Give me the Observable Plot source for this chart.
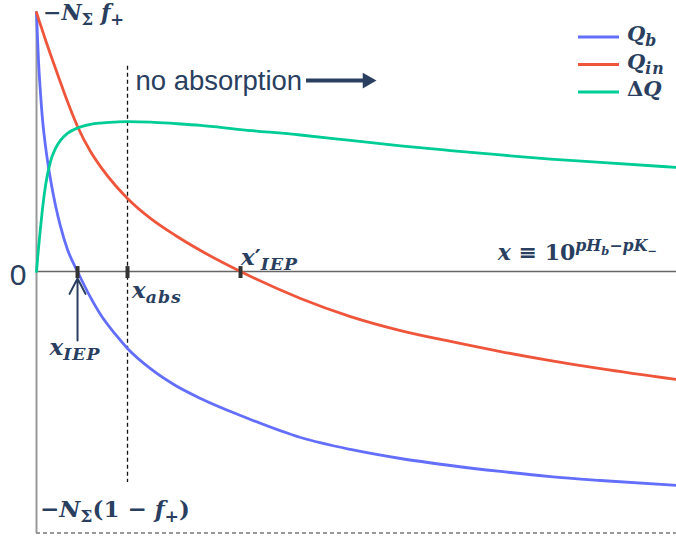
<!DOCTYPE html>
<html><head><meta charset="utf-8">
<script src="https://cdn.jsdelivr.net/npm/d3@7"></script>
<script src="https://cdn.jsdelivr.net/npm/@observablehq/plot@0.6"></script>
<style>body{margin:0;background:#fff} svg{display:block}</style>
</head><body><div id="chart"></div>
<script>
// x = 10^(pH_b - pK_-) (arbitrary linear units), charges normalised so -N_Σ f_+ = 1
const xs  = [0, 0.016, 0.031, 0.063, 0.094, 0.141, 0.219, 0.297, 0.375, 0.484, 0.641, 0.844, 1.0, 1.234, 1.422, 1.781, 2.172, 2.563, 3.188, 4.125, 4.906, 5.688, 6.469, 7.25, 8.031, 8.813, 10];
const qb  = [1.000, 0.900, 0.815, 0.687, 0.587, 0.483, 0.355, 0.255, 0.174, 0.085, 0.000, -0.100, -0.166, -0.243, -0.297, -0.375, -0.440, -0.490, -0.556, -0.641, -0.687, -0.722, -0.749, -0.772, -0.792, -0.807, -0.826];
const qin = [1.000, 0.988, 0.976, 0.952, 0.929, 0.894, 0.838, 0.784, 0.730, 0.656, 0.560, 0.463, 0.405, 0.332, 0.282, 0.205, 0.139, 0.081, 0.000, -0.104, -0.174, -0.228, -0.270, -0.309, -0.344, -0.375, -0.417];
const dq  = [0.000, 0.046, 0.089, 0.170, 0.243, 0.332, 0.425, 0.475, 0.506, 0.533, 0.554, 0.568, 0.573, 0.577, 0.579, 0.577, 0.571, 0.564, 0.548, 0.527, 0.506, 0.485, 0.467, 0.450, 0.434, 0.421, 0.402];
const seriesKeys = ["Qb", "Qin", "dQ"];
const seriesColors = ["#636efa", "#ef553b", "#00cc96"];
const yTop = 1, yBottom = -1.0116;          // -N_Σ f_+  and  -N_Σ(1 - f_+)
const xIEP = 0.641, xAbs = 1.422, xIEPp = 3.188;
const absLineTop = 0.792, absLineBottom = -0.815;
const noAbsText = "no absorption";

const ink = "#2a3f5f";
const mathFont = "'DejaVu Serif', serif";

const rows = xs.flatMap((x, i) => [
  {x, y: qb[i], s: "Qb"}, {x, y: qin[i], s: "Qin"}, {x, y: dq[i], s: "dQ"}
]);

const plot = Plot.plot({
  width: 676, height: 539,
  marginLeft: 36, marginRight: 0, marginTop: 12, marginBottom: 6,
  x: {domain: [0, 10], axis: null},
  y: {domain: [yBottom, yTop], axis: null},
  color: {domain: seriesKeys, range: seriesColors},
  marks: [
    Plot.ruleY([yBottom], {x1: 0, x2: 10, stroke: "#333", strokeWidth: 1, strokeDasharray: "4,3", dy: -0.5}),
    Plot.ruleX([0], {y1: yBottom, y2: yTop, stroke: "#999", strokeWidth: 2}),
    Plot.ruleY([0], {x1: 0, x2: 10, stroke: "#666", strokeWidth: 1.6}),
    Plot.ruleX([xAbs], {y1: absLineTop, y2: absLineBottom, stroke: "#111", strokeWidth: 1.3, strokeDasharray: "4,3"}),
    Plot.line(rows, {x: "x", y: "y", z: "s", stroke: "s", strokeWidth: 2.8, curve: "monotone-x"}),
    Plot.ruleX([xIEP, xAbs, xIEPp], {y1: 0.019, y2: -0.027, stroke: "#333", strokeWidth: 4}),
    Plot.arrow([0], {x1: xIEP, x2: xIEP, y1: -0.266, y2: -0.027, stroke: ink, strokeWidth: 2, headLength: 13, headAngle: 55}),
    Plot.ruleY([0.737], {x1: 4.219, x2: 5.11, stroke: ink, strokeWidth: 4}),
    Plot.dot([0], {x: 5.169, y: 0.737, symbol: "triangle", r: 5.9, rotate: 90, fill: ink, stroke: null}),
    Plot.text([noAbsText], {x: 1.547, y: 0.699, text: d => d, textAnchor: "start", lineAnchor: "bottom", fontSize: 27.5, fontFamily: "'Liberation Sans', Arial, sans-serif", fill: ink}),
    Plot.text(["0"], {x: 0, y: 0, text: d => d, dx: -10, dy: 14, textAnchor: "end", lineAnchor: "bottom", fontSize: 30, fontFamily: "'Liberation Sans', Arial, sans-serif", fill: ink})
  ]
});
document.getElementById("chart").append(plot);

// rich math labels positioned through the plot's own scales
const sx = plot.scale("x"), sy = plot.scale("y");
const K = {
  i:  {shift: 0,  scale: 1,    style: "italic"},
  r:  {shift: 0,  scale: 1,    style: "normal"},
  si: {shift: 5,  scale: 0.75, style: "italic", ls: 1},
  sr: {shift: 5,  scale: 0.75, style: "normal"},
  Pi: {shift: -9, scale: 0.72, style: "italic"},
  Pr: {shift: -9, scale: 0.72, style: "normal"},
  PSi:{shift: -5, scale: 0.52, style: "italic"},
  PSr:{shift: -5, scale: 0.52, style: "normal"}
};
const labels = [
  {x: 0, y: yTop, dx: 7, dy: 8, size: 22, parts: [["−","r"],["N","i"],["Σ","sr"],[" ","r"],["f","i"],["+","sr"]]},
  {x: 0, y: -0.950, dx: 4, dy: 0, size: 23, parts: [["−","r"],["N","i"],["Σ","sr"],["(1 − ","r"],["f","i"],["+","sr"],[")","r"]]},
  {x: xIEP, y: 0, dx: -2, dy: 84, size: 23, anchor: "middle", parts: [["x","i"],["IEP","si"]]},
  {x: xAbs, y: 0, dx: 5, dy: 27, size: 23, parts: [["x","i"],["abs","si"]]},
  {x: xIEPp, y: 0, dx: 1, dy: -6, size: 23, parts: [["x","i"],["′","r"],["IEP","si"]]},
  {x: 10, y: 0, dx: -19, dy: -11, size: 22, anchor: "end", parts: [["x","i"],[" ≡ ","r"],["10","r"],["p","Pi"],["H","Pi"],["b","PSi"],["−","Pr"],["p","Pi"],["K","Pi"],["−","PSr"]]}
];
const svg = d3.select(plot);
const g = svg.append("g").attr("fill", ink).attr("font-family", mathFont).attr("font-weight", "bold");
function richText(parent, px, py, size, parts, anchor) {
  const t = parent.append("text").attr("x", px).attr("y", py).attr("font-size", size).attr("text-anchor", anchor || "start");
  let prev = 0;
  for (const [txt, k, dx] of parts) {
    const s = K[k];
    const ts = t.append("tspan").attr("dy", s.shift - prev).attr("font-size", size * s.scale).attr("font-style", s.style).text(txt);
    if (dx) ts.attr("dx", dx);
    if (s.ls) ts.attr("letter-spacing", s.ls);
    prev = s.shift;
  }
  return t;
}
for (const L of labels) richText(g, sx.apply(L.x) + L.dx, sy.apply(L.y) + L.dy, L.size, L.parts, L.anchor);

// legend (top right)
const legendNames = [[["Q","i"],["b","si"]], [["Q","i"],["in","si"]], [["Δ","r"],["Q","i"]]];
const W = 676;
seriesKeys.forEach((k, i) => {
  const yLine = 37 + i * 27.5;
  svg.append("line").attr("x1", W - 98).attr("x2", W - 57).attr("y1", yLine).attr("y2", yLine)
    .attr("stroke", seriesColors[i]).attr("stroke-width", 2.8);
  richText(g, W - 49, yLine + 4, 21, legendNames[i]);
});
</script></body></html>
